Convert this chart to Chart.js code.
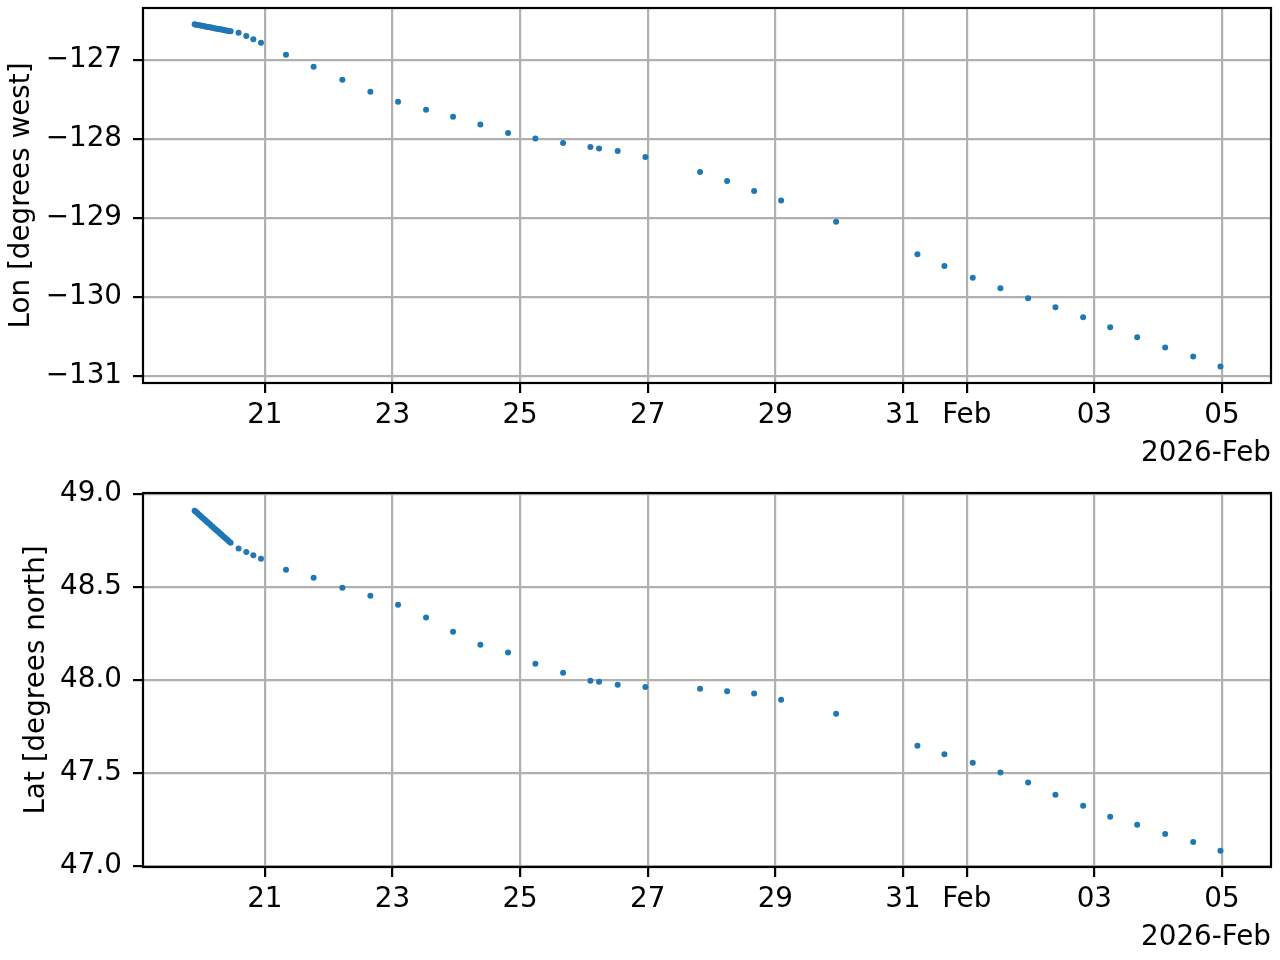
<!DOCTYPE html>
<html>
<head>
<meta charset="utf-8">
<script src="https://cdn.jsdelivr.net/npm/chart.js@4.4.1/dist/chart.umd.min.js"></script>
<style>
  body { margin: 0; background: #fff; }
  #wrap { position: relative; width: 1280px; height: 960px; }
  canvas { position: absolute; left: 0; }
</style>
</head>
<body>
<div id="wrap">
  <canvas id="lon-chart" width="1280" height="480" style="top:0"></canvas>
  <canvas id="lat-chart" width="1280" height="480" style="top:480px"></canvas>
</div>
<script>
// time axis: days counted from 2026-01-00 (so Feb 1 = 32)
var days = [
  19.900, 19.923, 19.947, 19.970, 19.994, 20.017, 20.041, 20.064, 20.088, 20.111,
  20.135, 20.158, 20.182, 20.205, 20.229, 20.252, 20.276, 20.299, 20.323, 20.346,
  20.370, 20.393, 20.417, 20.440, 20.464,
  20.589, 20.710, 20.820, 20.940, 21.332, 21.765, 22.215, 22.654, 23.088, 23.527,
  23.950, 24.378, 24.812, 25.240, 25.674, 26.102, 26.238, 26.530, 26.964, 27.821,
  28.245, 28.668, 29.091, 29.953, 31.227, 31.650, 32.094, 32.528, 32.962, 33.390,
  33.824, 34.248, 34.671, 35.110, 35.549, 35.976
];

var lon = [
  -126.547, -126.551, -126.554, -126.558, -126.562, -126.565, -126.569, -126.573, -126.576, -126.580,
  -126.584, -126.588, -126.591, -126.595, -126.599, -126.602, -126.606, -126.610, -126.613, -126.617,
  -126.621, -126.625, -126.628, -126.632, -126.636,
  -126.652, -126.695, -126.737, -126.779, -126.931, -127.084, -127.249, -127.401, -127.528, -127.630,
  -127.719, -127.817, -127.922, -127.994, -128.049, -128.100, -128.121, -128.150, -128.227, -128.417,
  -128.531, -128.658, -128.778, -129.048, -129.458, -129.607, -129.756, -129.890, -130.017, -130.131,
  -130.258, -130.385, -130.512, -130.639, -130.754, -130.881
];

var lat = [
  48.910, 48.903, 48.896, 48.888, 48.881, 48.874, 48.867, 48.860, 48.852, 48.845,
  48.838, 48.831, 48.824, 48.816, 48.809, 48.802, 48.795, 48.788, 48.780, 48.773,
  48.766, 48.759, 48.752, 48.744, 48.737,
  48.707, 48.688, 48.671, 48.652, 48.592, 48.549, 48.496, 48.453, 48.404, 48.336,
  48.259, 48.189, 48.148, 48.087, 48.039, 47.996, 47.990, 47.974, 47.963, 47.953,
  47.940, 47.927, 47.894, 47.818, 47.646, 47.601, 47.555, 47.503, 47.449, 47.383,
  47.324, 47.265, 47.222, 47.173, 47.130, 47.082
];

var xTicks = [21, 23, 25, 27, 29, 31, 32, 34, 36];
var xTickLabels = ['21', '23', '25', '27', '29', '31', 'Feb', '03', '05'];
var lonTicks = [-131, -130, -129, -128, -127];
var latTicks = [47.0, 47.5, 48.0, 48.5, 49.0];

var FONT = { family: 'DejaVu Sans', size: 27.8, lineHeight: 1 };

// draws the box round the plot area (matplotlib spines)
var spines = {
  id: 'spines',
  afterDraw: function(chart) {
    var a = chart.chartArea, ctx = chart.ctx;
    ctx.save();
    ctx.strokeStyle = '#000';
    ctx.lineWidth = 2.2;
    ctx.strokeRect(a.left, a.top, a.right - a.left, a.bottom - a.top);
    ctx.restore();
  }
};

function makeChart(id, yData, yMin, yMax, yTicks, yFmt, yLabel, padTop, xHeight, titlePad, bottomPad) {
  var pts = days.map(function(d, i) { return { x: d, y: yData[i] }; });
  var ctx = document.getElementById(id).getContext('2d');
  return new Chart(ctx, {
    type: 'scatter',
    data: {
      datasets: [{
        data: pts,
        backgroundColor: '#1f77b4',
        borderColor: '#1f77b4',
        borderWidth: 0,
        pointRadius: 3
      }]
    },
    options: {
      responsive: false,
      animation: false,
      layout: { padding: { top: padTop, right: 9, bottom: 0, left: 0 } },
      plugins: { legend: { display: false }, tooltip: { enabled: false } },
      scales: {
        x: {
          type: 'linear',
          min: 19.091,
          max: 36.768,
          afterBuildTicks: function(scale) {
            scale.ticks = xTicks.map(function(v) { return { value: v }; });
          },
          afterFit: function(scale) {
            scale.height = xHeight;
            scale.paddingLeft = 0;
            scale.paddingRight = 0;
          },
          border: { display: false },
          grid: { color: '#b0b0b0', lineWidth: 2.2, tickLength: 10, tickColor: '#000', tickWidth: 2.2 },
          ticks: {
            color: '#000', font: FONT, padding: 9, maxRotation: 0, autoSkip: false,
            callback: function(v) { return xTickLabels[xTicks.indexOf(v)]; }
          },
          title: {
            display: true, text: '2026-Feb', align: 'end', color: '#000', font: FONT,
            padding: { top: 0, bottom: bottomPad }
          }
        },
        y: {
          min: yMin,
          max: yMax,
          afterBuildTicks: function(scale) {
            scale.ticks = yTicks.map(function(v) { return { value: v }; });
          },
          afterFit: function(scale) {
            scale.width = 143;
            scale.paddingTop = 0;
            scale.paddingBottom = 0;
          },
          border: { display: false },
          grid: { color: '#b0b0b0', lineWidth: 2.2, tickLength: 10, tickColor: '#000', tickWidth: 2.2 },
          ticks: { color: '#000', font: FONT, padding: 11, callback: yFmt },
          title: {
            display: true, text: yLabel, color: '#000', font: FONT,
            padding: { top: titlePad, bottom: 0 }
          }
        }
      }
    },
    plugins: [spines]
  });
}

makeChart('lon-chart', lon, -131.09, -126.34, lonTicks,
  function(v) { return String(v).replace('-', '\u2212'); },
  'Lon [degrees west]', 8, 97, 8, 12);

makeChart('lat-chart', lat, 46.995, 49.005, latTicks,
  function(v) { return v.toFixed(1); },
  'Lat [degrees north]', 13, 93, 23, 8);
</script>
</body>
</html>
